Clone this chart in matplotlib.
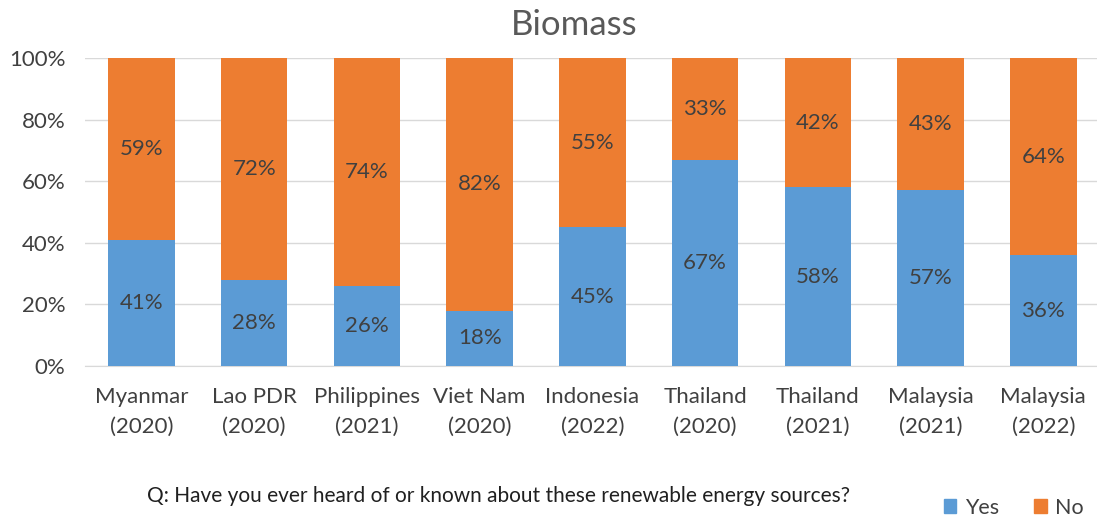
import matplotlib
matplotlib.use("Agg")
import matplotlib.pyplot as plt
from matplotlib.patches import Patch

categories = ["Myanmar\n(2020)", "Lao PDR\n(2020)", "Philippines\n(2021)", "Viet Nam\n(2020)",
              "Indonesia\n(2022)", "Thailand\n(2020)", "Thailand\n(2021)", "Malaysia\n(2021)",
              "Malaysia\n(2022)"]
yes_vals = [41, 28, 26, 18, 45, 67, 58, 57, 36]
no_vals = [59, 72, 74, 82, 55, 33, 42, 43, 64]
yticks = [0, 20, 40, 60, 80, 100]

BLUE = "#5B9BD5"
ORANGE = "#ED7D31"
TXT = "#404040"

plt.rcParams['font.family'] = ['Lato', 'DejaVu Sans']

fig = plt.figure(figsize=(10.97, 5.17), dpi=100)
ax = fig.add_axes([0.0775, 0.292, 0.925, 0.596])

x = list(range(len(categories)))
w = 0.59
ax.bar(x, yes_vals, width=w, color=BLUE, zorder=3)
ax.bar(x, no_vals, width=w, bottom=yes_vals, color=ORANGE, zorder=3)

for i in x:
    ax.text(i, yes_vals[i] / 2, f"{yes_vals[i]}%", ha="center", va="center",
            fontsize=16, color=TXT, zorder=4)
    ax.text(i, yes_vals[i] + no_vals[i] / 2, f"{no_vals[i]}%", ha="center", va="center",
            fontsize=16, color=TXT, zorder=4)

ax.set_xlim(-0.5, len(categories) - 0.5)
ax.set_ylim(0, 100)
ax.set_yticks(yticks)
ax.set_yticklabels([f"{t}%" for t in yticks], fontsize=16, color=TXT)
ax.set_xticks(x)
ax.set_xticklabels(categories, fontsize=16, color=TXT, linespacing=1.6)
ax.tick_params(axis="y", length=0, pad=14)
ax.tick_params(axis="x", length=0, pad=15)
ax.grid(axis="y", color="#D9D9D9", linewidth=1, zorder=0)
for s in ["top", "right", "left"]:
    ax.spines[s].set_visible(False)
ax.spines["bottom"].set_color("#D9D9D9")

fig.text(0.523, 0.952, "Biomass", ha="center", va="center", fontsize=25, color="#595959")
fig.text(0.134, 0.04, "Q: Have you ever heard of or known about these renewable energy sources?",
         ha="left", va="center", fontsize=15, color="#202020")

handles = [Patch(color=BLUE, label="Yes"), Patch(color=ORANGE, label="No")]
fig.legend(handles=handles, loc="center", bbox_to_anchor=(0.924, 0.018), ncol=2, frameon=False,
           fontsize=15.5, handlelength=0.6, handleheight=0.6, handletextpad=0.4, columnspacing=1.6,
           labelcolor=TXT)

fig.savefig("out.png", dpi=100)
